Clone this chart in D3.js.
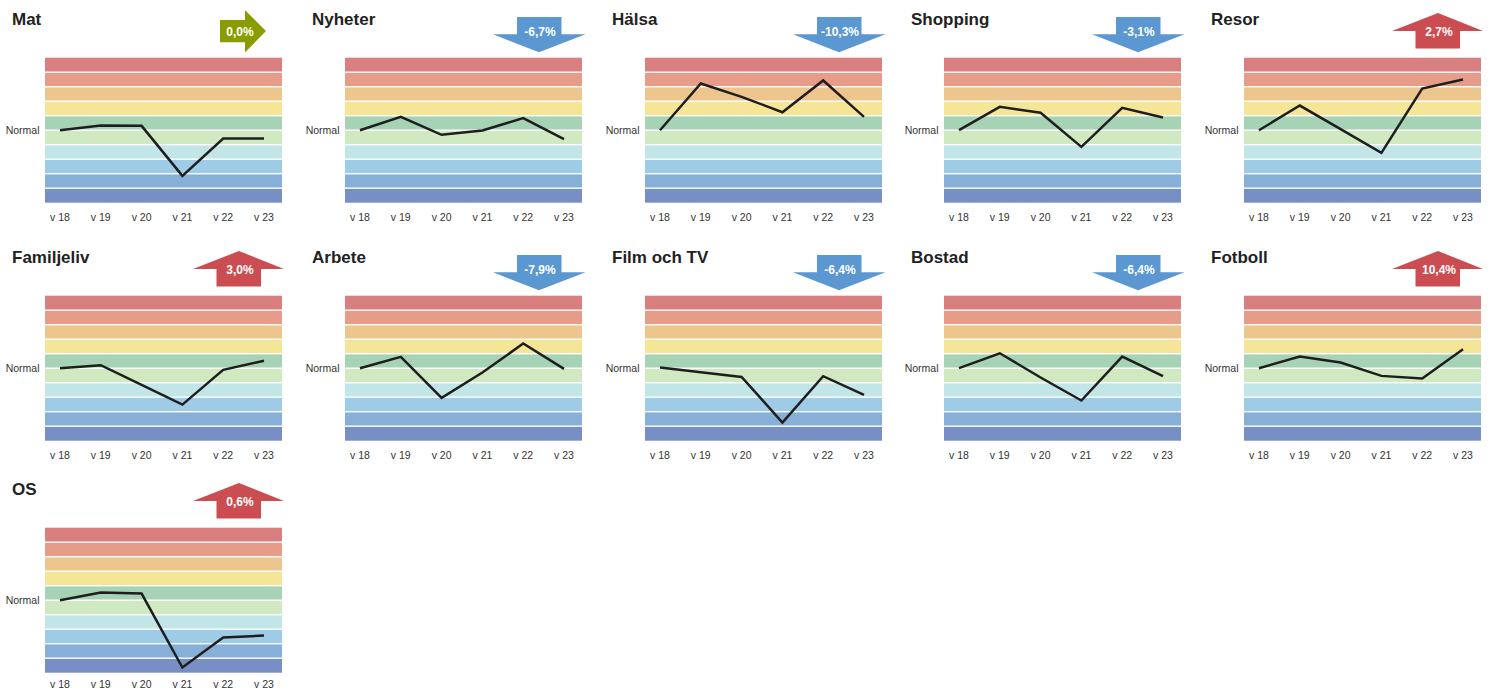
<!DOCTYPE html>
<html>
<head>
<meta charset="utf-8">
<script src="https://cdn.jsdelivr.net/npm/d3@7"></script>
<style>
  body { margin: 0; background: #fff; }
  text { font-family: "Liberation Sans", Arial, sans-serif; }
</style>
</head>
<body>
<div id="vis-container"></div>
<script>
// Kategorier och veckor
const categories = ["Mat", "Nyheter", "Hälsa", "Shopping", "Resor",
  "Familjeliv", "Arbete", "Film och TV", "Bostad", "Fotboll", "OS"];
const weeks = ["v 18", "v 19", "v 20", "v 21", "v 22", "v 23"];

// Index relativt "Normal" (0), ett band = 1 enhet
const values = [
  [0, 0.32, 0.30, -3.15, -0.57, -0.57],
  [0, 0.92, -0.32, -0.02, 0.83, -0.62],
  [0, 3.22, 2.30, 1.24, 3.43, 0.92],
  [0, 1.61, 1.20, -1.15, 1.54, 0.87],
  [0, 1.70, 0.07, -1.56, 2.87, 3.49],
  [0, 0.21, -1.15, -2.51, -0.11, 0.51],
  [0, 0.78, -2.05, -0.30, 1.70, -0.05],
  [0.05, -0.28, -0.60, -3.75, -0.55, -1.84],
  [0, 1.03, -0.64, -2.23, 0.80, -0.55],
  [0, 0.80, 0.39, -0.53, -0.71, 1.31],
  [0, 0.53, 0.46, -4.64, -2.57, -2.44]
];

// Förändring i procent
const changes = [0.0, -6.7, -10.3, -3.1, 2.7, 3.0, -7.9, -6.4, -6.4, 10.4, 0.6];

// Bandfärger uppifrån och ner
const bandColors = ["#d97f80", "#e69c88", "#ecc68d", "#f5e697", "#a6d3b6",
  "#d0e9c0", "#c2e5e8", "#9ecbe5", "#87b0d8", "#788fc5"];

// ––––––––––––––––––––––––––––––––––––––––––––––––––

const width = 1493, height = 690;
const colX = [0, 300, 600, 899, 1199];
const rowY = [0, 238, 470];

const svg = d3.select("#vis-container").append("svg")
  .attr("width", width).attr("height", height);

// Skalor (relativt panelen)
const x = d3.scalePoint().domain(weeks).range([60, 264]);
const y = d3.scaleLinear().domain([-5, 5]).range([202.7, 57.7]);
const bandH = y(0) - y(1);

const line = d3.line()
  .x((d, i) => x(weeks[i]))
  .y(d => y(d));

const fmt = v => v.toFixed(1).replace(".", ",") + "%";

categories.forEach((cat, k) => {
  const top = rowY[Math.floor(k / 5)];
  const g = svg.append("g")
    .attr("transform", `translate(${colX[k % 5]},${top})`);

  // Band
  g.selectAll("rect.band")
    .data(bandColors)
    .enter()
    .append("rect")
    .attr("class", "band")
    .attr("x", 45)
    .attr("width", 237)
    .attr("y", (d, i) => y(5 - i) + (i > 0 ? 0.7 : 0))
    .attr("height", (d, i) => bandH - (i > 0 ? 0.7 : 0) - (i < 9 ? 0.7 : 0))
    .attr("fill", d => d);

  // Titel
  g.append("text")
    .attr("x", 12).attr("y", 25)
    .attr("font-size", 17).attr("font-weight", "bold")
    .attr("fill", "#222")
    .text(cat);

  // Normal
  g.append("text")
    .attr("x", 39.5).attr("y", y(0))
    .attr("dy", "0.35em")
    .attr("text-anchor", "end")
    .attr("font-size", 10.5).attr("fill", "#333")
    .text("Normal");

  // Veckor (sista raden hålls inom bilden)
  const tickY = Math.min(220.5, height - top - 2);
  g.selectAll("text.week")
    .data(weeks)
    .enter()
    .append("text")
    .attr("class", "week")
    .attr("x", d => x(d)).attr("y", tickY)
    .attr("text-anchor", "middle")
    .attr("font-size", 10.5).attr("fill", "#333")
    .text(d => d);

  // Linje
  g.append("path")
    .datum(values[k])
    .attr("d", line)
    .attr("fill", "none")
    .attr("stroke", "#1e1e1e")
    .attr("stroke-width", 2.5)
    .attr("stroke-linejoin", "miter");

  // Pil
  const c = changes[k];
  let pts, col;
  if (c > 0) {
    col = "#cc4d51";
    pts = [[239, 13], [284, 31], [261, 31], [261, 48.5], [216.5, 48.5], [216.5, 31], [193, 31]];
  } else if (c < 0) {
    col = "#5b97d1";
    pts = [[217, 17], [261.5, 17], [261.5, 34.3], [285.5, 34.3], [239, 52.3], [193, 34.3], [217, 34.3]];
  } else {
    col = "#8a9d00";
    pts = [[220, 20], [245, 20], [245, 10], [266, 31], [245, 52.5], [245, 42.3], [220, 42.3]];
  }
  g.append("polygon")
    .attr("points", pts.map(p => p.join(",")).join(" "))
    .attr("fill", col);

  g.append("text")
    .attr("x", 240).attr("y", 35.5)
    .attr("text-anchor", "middle")
    .attr("font-size", 12).attr("font-weight", "bold")
    .attr("fill", "#fff")
    .text(fmt(c));
});
</script>
</body>
</html>
